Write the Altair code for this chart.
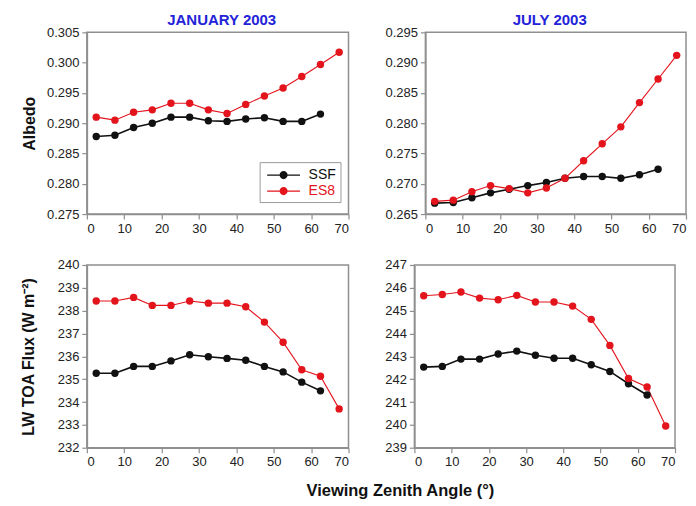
import altair as alt
import pandas as pd

# ---- data ----
angles_ssf = [2.5, 7.5, 12.5, 17.5, 22.5, 27.5, 32.5, 37.5, 42.5, 47.5, 52.5, 57.5, 62.5]
angles_es8 = [2.5, 7.5, 12.5, 17.5, 22.5, 27.5, 32.5, 37.5, 42.5, 47.5, 52.5, 57.5, 62.5, 67.5]

jan_alb_ssf = [0.2878, 0.2880, 0.2893, 0.2900, 0.2910, 0.2910, 0.2904, 0.2903, 0.2907, 0.2909, 0.2903, 0.2903, 0.2915]
jan_alb_es8 = [0.2910, 0.2905, 0.2918, 0.2922, 0.2933, 0.2933, 0.2922, 0.2916, 0.2931, 0.2945, 0.2958, 0.2977, 0.2997, 0.3017]

jul_alb_ssf = [0.2668, 0.2669, 0.2677, 0.2685, 0.2691, 0.2697, 0.2702, 0.2709, 0.2712, 0.2712, 0.2709, 0.2715, 0.2724]
jul_alb_es8 = [0.2671, 0.2673, 0.2687, 0.2697, 0.2692, 0.2685, 0.2693, 0.2709, 0.2738, 0.2766, 0.2794, 0.2834, 0.2873, 0.2912]

jan_lw_ssf = [235.26, 235.26, 235.56, 235.56, 235.80, 236.07, 235.98, 235.91, 235.83, 235.56, 235.32, 234.87, 234.49]
jan_lw_es8 = [238.42, 238.42, 238.58, 238.23, 238.23, 238.42, 238.33, 238.33, 238.17, 237.50, 236.62, 235.41, 235.13, 233.70]

jul_lw_ssf = [242.53, 242.56, 242.88, 242.88, 243.10, 243.23, 243.05, 242.92, 242.92, 242.63, 242.34, 241.80, 241.31]
jul_lw_es8 = [245.65, 245.71, 245.82, 245.55, 245.48, 245.67, 245.38, 245.38, 245.20, 244.62, 243.48, 242.03, 241.66, 239.95]

sources = ["SSF", "ES8"]
colors = ["#111111", "#e3141c"]
x_ticks = [0, 10, 20, 30, 40, 50, 60, 70]
jan_alb_ticks = [0.275, 0.280, 0.285, 0.290, 0.295, 0.300, 0.305]
jul_alb_ticks = [0.265, 0.270, 0.275, 0.280, 0.285, 0.290, 0.295]
jan_lw_ticks = [232, 233, 234, 235, 236, 237, 238, 239, 240]
jul_lw_ticks = [239, 240, 241, 242, 243, 244, 245, 246, 247]

rows = []
def add(panel, angles, vals, src):
    for a, v in zip(angles, vals):
        rows.append({"panel": panel, "source": src, "angle": a, "value": v})

add("jan_alb", angles_ssf, jan_alb_ssf, "SSF")
add("jan_alb", angles_es8, jan_alb_es8, "ES8")
add("jul_alb", angles_ssf, jul_alb_ssf, "SSF")
add("jul_alb", angles_es8, jul_alb_es8, "ES8")
add("jan_lw", angles_ssf, jan_lw_ssf, "SSF")
add("jan_lw", angles_es8, jan_lw_es8, "ES8")
add("jul_lw", angles_ssf, jul_lw_ssf, "SSF")
add("jul_lw", angles_es8, jul_lw_es8, "ES8")
df = pd.DataFrame(rows)

# legend glyph: a thin line with a filled dot (unit = half of sqrt(symbolSize))
LEG_PATH = ("M-1.83,-0.075H1.83V0.075H-1.83Z "
            "M0.45,0A0.45,0.45 0 1,1 -0.45,0A0.45,0.45 0 1,1 0.45,0Z")


def panel(name, title, ticks, ytitle, fmt, title_pad, legend=False, w=262, h=182, tdx=0):
    base = alt.Chart(df).transform_filter(alt.datum.panel == name)
    x = alt.X("angle:Q", scale=alt.Scale(domain=[0, 70], nice=False),
              axis=alt.Axis(values=x_ticks, title=None, format="d"))
    y = alt.Y("value:Q", scale=alt.Scale(domain=[ticks[0], ticks[-1]], nice=False, zero=False),
              axis=alt.Axis(values=ticks, format=fmt, title=ytitle, titlePadding=title_pad))
    if legend:
        leg = alt.Legend(title=None, orient="none", legendX=173, legendY=130,
                         symbolType=LEG_PATH, symbolSize=324, symbolStrokeWidth=0,
                         symbolOpacity=1, symbolOffset=11,
                         labelFontSize=14, labelFont="Liberation Sans",
                         labelExpr="datum.label + '    '",
                         labelColor={"expr": "datum.value == 'ES8' ? '#e3141c' : '#111111'"},
                         strokeColor="#9a9a9a", fillColor="white", padding=4,
                         rowPadding=0, labelOffset=16)
    else:
        leg = None
    color_sc = alt.Scale(domain=sources, range=colors)
    line = base.mark_line().encode(
        x=x, y=y,
        color=alt.Color("source:N", scale=color_sc, legend=leg),
        strokeWidth=alt.StrokeWidth("source:N", scale=alt.Scale(domain=sources, range=[1.6, 1.1]), legend=None),
    )
    pts = base.mark_circle(size=55, opacity=1).encode(
        x=x, y=y,
        color=alt.Color("source:N", scale=color_sc, legend=leg),
    )
    ch = alt.layer(line, pts).properties(width=w, height=h)
    if title:
        ch = ch.properties(title=alt.TitleParams(title, color="#2323d8", fontSize=15,
                                                 font="Liberation Sans", fontWeight="bold",
                                                 offset=-2, dx=tdx))
    return ch


p1 = panel("jan_alb", "JANUARY 2003", jan_alb_ticks, "Albedo", ".3f", 9, legend=True, tdx=4)
p2 = panel("jul_alb", "JULY 2003", jul_alb_ticks, None, ".3f", 9, w=261, tdx=-6)
p3 = panel("jan_lw", None, jan_lw_ticks, "LW TOA Flux (W m\u207b\u00b2)", "d", 21, h=183)
p4 = panel("jul_lw", None, jul_lw_ticks, None, "d", 9, w=261, h=183)

top = alt.hconcat(p1, p2, spacing=33).resolve_legend(color="independent")
bottom = alt.hconcat(p3, p4, spacing=33).resolve_legend(color="independent")

chart = alt.vconcat(top, bottom, spacing=22).properties(
    title=alt.TitleParams("Viewing Zenith Angle (\u00b0)", orient="bottom", anchor="middle",
                          fontSize=16.5, font="Liberation Sans", fontWeight="bold",
                          color="#111111", offset=14, dx=47),
    padding={"left": 11, "top": 4, "right": 0, "bottom": 0},
).resolve_legend(color="independent").configure_view(
    stroke="#8f8f8f", strokeWidth=1.5
).configure_axis(
    domainColor="#8f8f8f", domainWidth=1.5, tickColor="#8f8f8f", tickWidth=1.2, tickSize=5,
    labelFont="Liberation Sans", labelFontSize=13, labelColor="#222222", labelPadding=3,
    titleFont="Liberation Sans", titleFontSize=16, titleFontWeight="bold", titleColor="#111111",
    grid=False,
)

chart.save("out.html", embed_options={"renderer": "svg", "actions": False})
